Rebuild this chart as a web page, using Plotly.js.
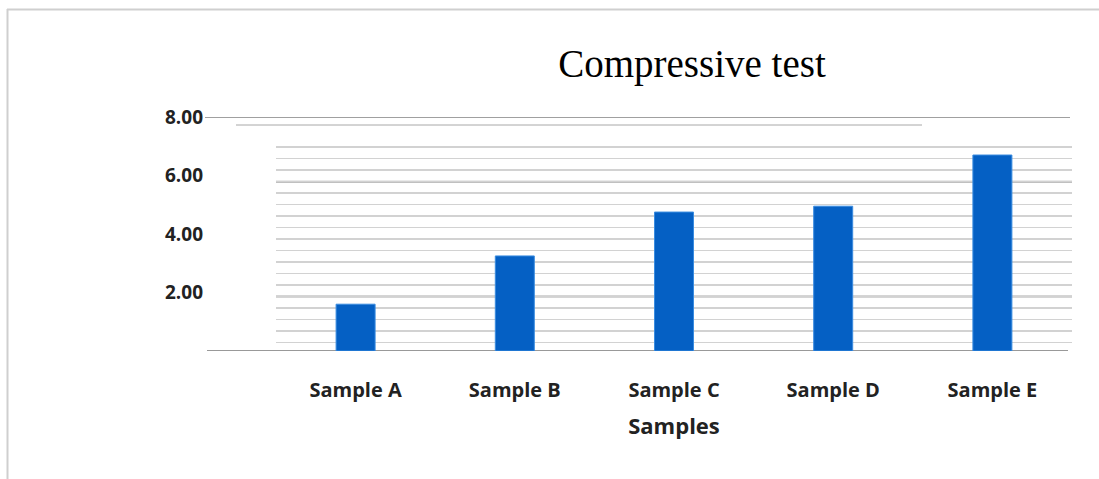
<!DOCTYPE html>
<html>
<head>
<meta charset="utf-8">
<script src="https://cdn.plot.ly/plotly-3.0.1.min.js"></script>
<style>
  html, body { margin: 0; padding: 0; background: #ffffff; }
  #chart { width: 1099px; height: 479px; }
</style>
</head>
<body>
<div id="chart"></div>
<script>
// ---- data ----
const categories = ['Sample A', 'Sample B', 'Sample C', 'Sample D', 'Sample E'];
const compressive = [1.6, 3.25, 4.75, 4.95, 6.7];
const yTickVals = [2, 4, 6, 8];
const yTickText = ['2.00', '4.00', '6.00', '8.00'];
const chartTitle = 'Compressive test';
const xTitle = 'Samples';

// ---- layout geometry (pixels) ----
const W = 1099, H = 479;
const L = 276, R = 1072, T = 117, B = 351;
const px2x = px => (px - L) / (R - L);
const py2y = py => (B - py) / (B - T);

// light grid lines (style)
const minorVals = [];
for (let v = 0.284; v <= 7.0; v += 0.394) minorVals.push(+v.toFixed(3));
const darkGrid = [1.86, 3.83, 5.79];

const shapes = [];
// frame of the picture
shapes.push({type: 'line', xref: 'paper', yref: 'paper', x0: px2x(7.5), x1: px2x(7.5), y0: py2y(9), y1: py2y(480),
  line: {color: '#cfcfcf', width: 2}});
shapes.push({type: 'line', xref: 'paper', yref: 'paper', x0: px2x(7), x1: px2x(1100), y0: py2y(9.5), y1: py2y(9.5),
  line: {color: '#cfcfcf', width: 2}});
// darker grid lines
darkGrid.forEach(v => shapes.push({type: 'line', xref: 'paper', yref: 'y', x0: 0, x1: 1, y0: v, y1: v,
  layer: 'below', line: {color: '#ababab', width: 2}}));
// top line at 8.00 and the second thin line under it
shapes.push({type: 'line', xref: 'paper', yref: 'y', x0: px2x(205), x1: px2x(1070), y0: 8, y1: 8,
  layer: 'below', line: {color: '#808080', width: 1.5}});
shapes.push({type: 'line', xref: 'paper', yref: 'paper', x0: px2x(236), x1: px2x(922), y0: py2y(125), y1: py2y(125),
  layer: 'below', line: {color: '#a8a8a8', width: 1}});
// baseline
shapes.push({type: 'line', xref: 'paper', yref: 'y', x0: px2x(207), x1: px2x(1068), y0: 0, y1: 0,
  layer: 'below', line: {color: '#999999', width: 2}});

const trace = {
  type: 'bar',
  x: categories,
  y: compressive,
  marker: {color: '#0560C4', line: {color: '#3a8ce0', width: 1}},
  hoverinfo: 'x+y'
};

const layout = {
  width: W, height: H,
  margin: {l: L, r: W - R, t: T, b: H - B, pad: 0},
  paper_bgcolor: '#ffffff',
  plot_bgcolor: 'rgba(0,0,0,0)',
  showlegend: false,
  bargap: 0.755,
  title: {
    text: chartTitle,
    font: {family: 'Liberation Serif, Times New Roman, serif', size: 39, color: '#000000'},
    xref: 'paper', x: px2x(692), xanchor: 'center',
    yref: 'container', y: 1 - 63 / H, yanchor: 'middle'
  },
  xaxis: {
    type: 'category',
    showgrid: false, zeroline: false, showline: false, ticks: '',
    ticklabelstandoff: 25,
    tickfont: {family: 'Open Sans, sans-serif', size: 20, color: '#222222', weight: 700},
    title: {text: xTitle, standoff: 16,
      font: {family: 'Open Sans, sans-serif', size: 22, color: '#222222', weight: 700}},
    fixedrange: true
  },
  yaxis: {
    range: [0, 8],
    tickmode: 'array', tickvals: yTickVals, ticktext: yTickText,
    showgrid: false, zeroline: false, showline: false, ticks: '',
    ticklabelstandoff: 72,
    tickfont: {family: 'Open Sans, sans-serif', size: 19, color: '#222222', weight: 700},
    minor: {tickmode: 'array', tickvals: minorVals, showgrid: true, gridcolor: '#d2d2d2', gridwidth: 1.5, ticks: ''},
    fixedrange: true
  },
  shapes: shapes
};

Plotly.newPlot('chart', [trace], layout, {displayModeBar: false, staticPlot: true});
</script>
</body>
</html>
